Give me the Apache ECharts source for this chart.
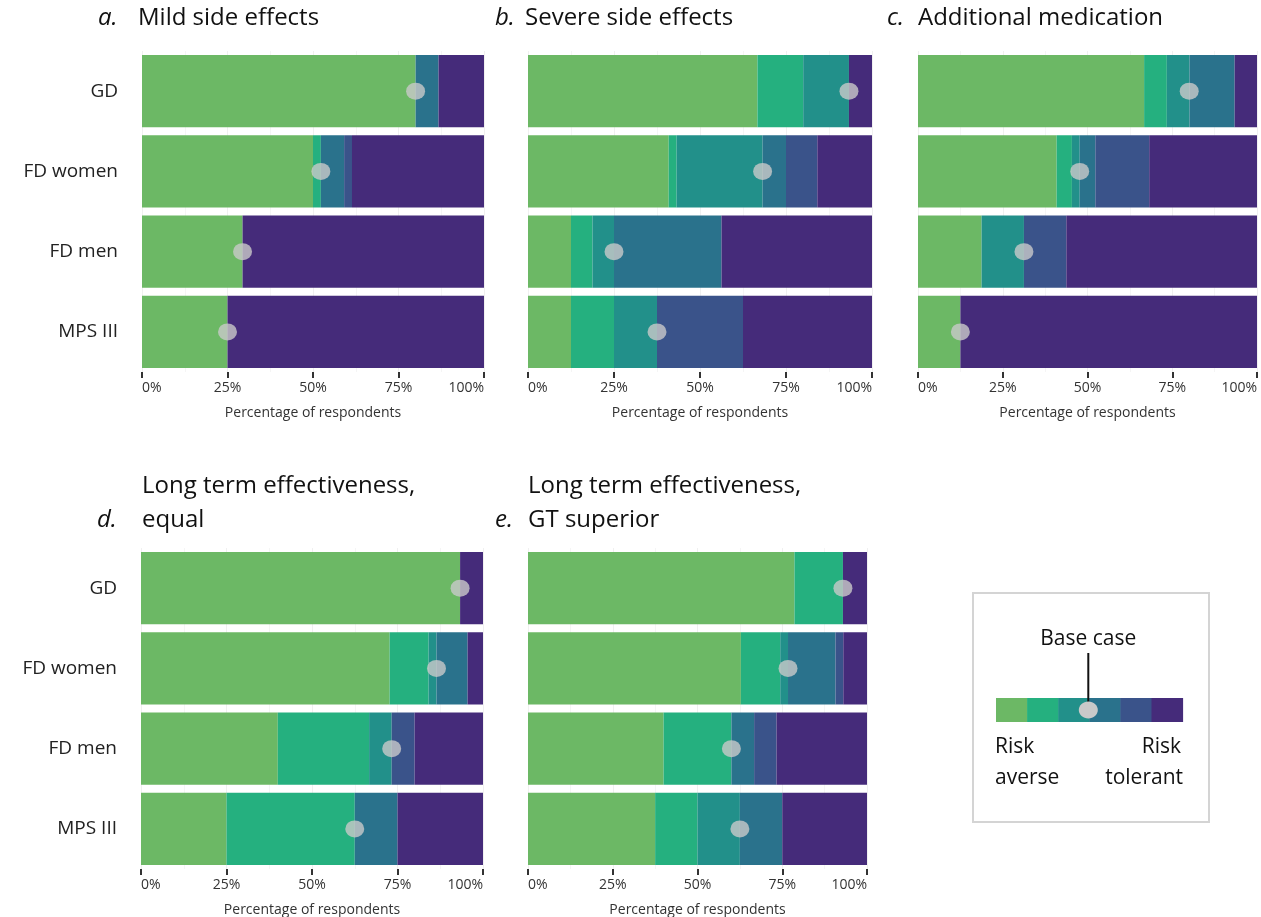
<!DOCTYPE html>
<html>
<head>
<meta charset="utf-8">
<script src="https://cdn.jsdelivr.net/npm/echarts@6/dist/echarts.min.js"></script>
<style>
  html, body { margin: 0; padding: 0; background: #ffffff; overflow: hidden; }
  #chart { width: 1261px; height: 917px; }
</style>
</head>
<body>
<div id="chart"></div>
<script>
// Respondent groups (rows, top to bottom)
const groups = ['GD', 'FD women', 'FD men', 'MPS III'];

// Six acceptance levels, from most risk averse to most risk tolerant
const levels = ['Level 1', 'Level 2', 'Level 3', 'Level 4', 'Level 5', 'Level 6'];

// Share of respondents (%) per level, one row per group
const mildSideEffects = [
  [80.0, 0, 0, 6.7, 0, 13.3],
  [50.0, 2.3, 0, 6.8, 2.3, 38.6],
  [29.4, 0, 0, 0, 0, 70.6],
  [25.0, 0, 0, 0, 0, 75.0]
];
const severeSideEffects = [
  [66.7, 13.3, 13.3, 0, 0, 6.7],
  [40.9, 2.3, 25.0, 6.8, 9.1, 15.9],
  [12.5, 6.25, 6.25, 31.25, 0, 43.75],
  [12.5, 12.5, 12.5, 0, 25.0, 37.5]
];
const additionalMedication = [
  [66.7, 6.7, 6.7, 13.3, 0, 6.6],
  [40.9, 4.5, 2.3, 4.6, 15.9, 31.8],
  [18.75, 0, 12.5, 0, 12.5, 56.25],
  [12.5, 0, 0, 0, 0, 87.5]
];
const longTermEqual = [
  [93.3, 0, 0, 0, 0, 6.7],
  [72.7, 11.4, 2.3, 9.1, 0, 4.5],
  [40.0, 26.7, 6.6, 0, 6.7, 20.0],
  [25.0, 37.5, 0, 12.5, 0, 25.0]
];
const longTermGtSuperior = [
  [78.6, 14.3, 0, 0, 0, 7.1],
  [62.8, 11.6, 2.3, 14.0, 2.3, 7.0],
  [40.0, 20.0, 0, 6.7, 6.6, 26.7],
  [37.5, 12.5, 12.5, 12.5, 0, 25.0]
];

// Base-case position (%) per group
const baseMild = [80.0, 52.3, 29.4, 25.0];
const baseSevere = [93.3, 68.2, 25.0, 37.5];
const baseMedication = [80.0, 47.7, 31.25, 12.5];
const baseEqual = [93.3, 86.4, 73.3, 62.5];
const baseSuperior = [92.9, 76.7, 60.0, 62.5];

// Axis ticks
const tickValues = [0, 25, 50, 75, 100];

const levelColors = ['#6cb865', '#25b07f', '#22908a', '#2a728c', '#3a538a', '#452b7a'];
const dotColor = '#c9c9c9';
const FONT = '"Open Sans", "Noto Sans", sans-serif';

const panels = [
  { rows: mildSideEffects, base: baseMild, grid: { left: 142, top: 51, width: 342, height: 321 }, labels: true },
  { rows: severeSideEffects, base: baseSevere, grid: { left: 528, top: 51, width: 344, height: 321 }, labels: false },
  { rows: additionalMedication, base: baseMedication, grid: { left: 918, top: 51, width: 339, height: 321 }, labels: false },
  { rows: longTermEqual, base: baseEqual, grid: { left: 141, top: 548, width: 342, height: 321 }, labels: true },
  { rows: longTermGtSuperior, base: baseSuperior, grid: { left: 528, top: 548, width: 339, height: 321 }, labels: false }
];

const grids = [], xAxes = [], yAxes = [], series = [];

panels.forEach((p, i) => {
  grids.push(Object.assign({ containLabel: false, outerBoundsMode: 'none' }, p.grid));
  xAxes.push({
    type: 'value', gridIndex: i, min: 0, max: 100, interval: 25,
    axisLine: { show: false },
    axisTick: { show: true, length: 6, lineStyle: { color: '#333333', width: 2 } },
    axisLabel: {
      margin: 9, fontFamily: FONT, fontSize: 14, color: '#333333',
      alignMinLabel: 'left', alignMaxLabel: 'right',
      formatter: v => tickValues.includes(v) ? v + '%' : ''
    },
    splitLine: { show: true, lineStyle: { color: '#f0f0f0', width: 1 } },
    minorTick: { show: false, splitNumber: 2 },
    minorSplitLine: { show: true, lineStyle: { color: '#f5f5f5', width: 1 } },
    name: 'Percentage of respondents', nameLocation: 'middle', nameGap: 34,
    nameTextStyle: { fontFamily: FONT, fontSize: 14, color: '#333333' }
  });
  yAxes.push({
    type: 'category', gridIndex: i, data: groups, inverse: true,
    axisLine: { show: false }, axisTick: { show: false },
    axisLabel: { show: p.labels, margin: 24, fontFamily: FONT, fontSize: 19, color: '#222222' },
    splitLine: { show: false }
  });
  levels.forEach((lv, k) => {
    series.push({
      name: lv, type: 'bar', stack: 'panel' + i,
      xAxisIndex: i, yAxisIndex: i,
      barCategoryGap: '10%',
      itemStyle: { color: levelColors[k] },
      emphasis: { disabled: true },
      data: p.rows.map(r => r[k])
    });
  });
  series.push({
    name: 'Base case', type: 'scatter', xAxisIndex: i, yAxisIndex: i, z: 10,
    symbol: 'circle', symbolSize: [19, 17],
    itemStyle: { color: dotColor },
    emphasis: { disabled: true },
    data: p.base.map((v, j) => [v, j])
  });
});

// Panel headings
const heading = (x, y, text, italic) => ({
  type: 'text', left: x, top: y,
  style: { text, fontFamily: FONT, fontSize: 24, fontStyle: italic ? 'italic' : 'normal', fill: '#111111' }
});
const headings = [
  heading(98, 6, 'a.', true), heading(138, 6, 'Mild side effects', false),
  heading(495, 6, 'b.', true), heading(525, 6, 'Severe side effects', false),
  heading(887, 6, 'c.', true), heading(918, 6, 'Additional medication', false),
  heading(142, 474, 'Long term effectiveness,', false),
  heading(97, 508, 'd.', true), heading(142, 508, 'equal', false),
  heading(528, 474, 'Long term effectiveness,', false),
  heading(495, 508, 'e.', true), heading(528, 508, 'GT superior', false)
];

// Colour key: six swatches with the base-case marker
const keyX = 996, keyY = 698, swW = 31.1, swH = 24;
const keyText = (x, y, text, align) => ({
  type: 'text', x, y,
  style: { text, fontFamily: FONT, fontSize: 21, fill: '#111111', align, verticalAlign: 'middle' }
});
const keyElements = [
  { type: 'rect', shape: { x: 973, y: 593, width: 236, height: 229 },
    style: { fill: '#ffffff', stroke: '#d4d4d4', lineWidth: 2 } }
];
levelColors.forEach((c, k) => {
  keyElements.push({ type: 'rect', shape: { x: keyX + k * swW, y: keyY, width: swW + 0.5, height: swH }, style: { fill: c } });
});
keyElements.push(
  { type: 'line', shape: { x1: keyX + 3 * swW - 1, y1: 653, x2: keyX + 3 * swW - 1, y2: 704 }, style: { stroke: '#111111', lineWidth: 2 } },
  { type: 'ellipse', shape: { cx: keyX + 3 * swW - 1, cy: keyY + swH / 2, rx: 9.5, ry: 8.5 }, style: { fill: dotColor } },
  keyText(keyX + 3 * swW - 1, 639, 'Base case', 'center'),
  keyText(keyX - 1, 747, 'Risk', 'left'),
  keyText(keyX - 1, 778, 'averse', 'left'),
  keyText(1181, 747, 'Risk', 'right'),
  keyText(1183, 778, 'tolerant', 'right')
);

const chart = echarts.init(document.getElementById('chart'), null, { renderer: 'canvas' });
chart.setOption({
  backgroundColor: '#ffffff',
  animation: false,
  textStyle: { fontFamily: FONT },
  grid: grids,
  xAxis: xAxes,
  yAxis: yAxes,
  series: series,
  graphic: headings.concat(keyElements)
});
</script>
</body>
</html>
